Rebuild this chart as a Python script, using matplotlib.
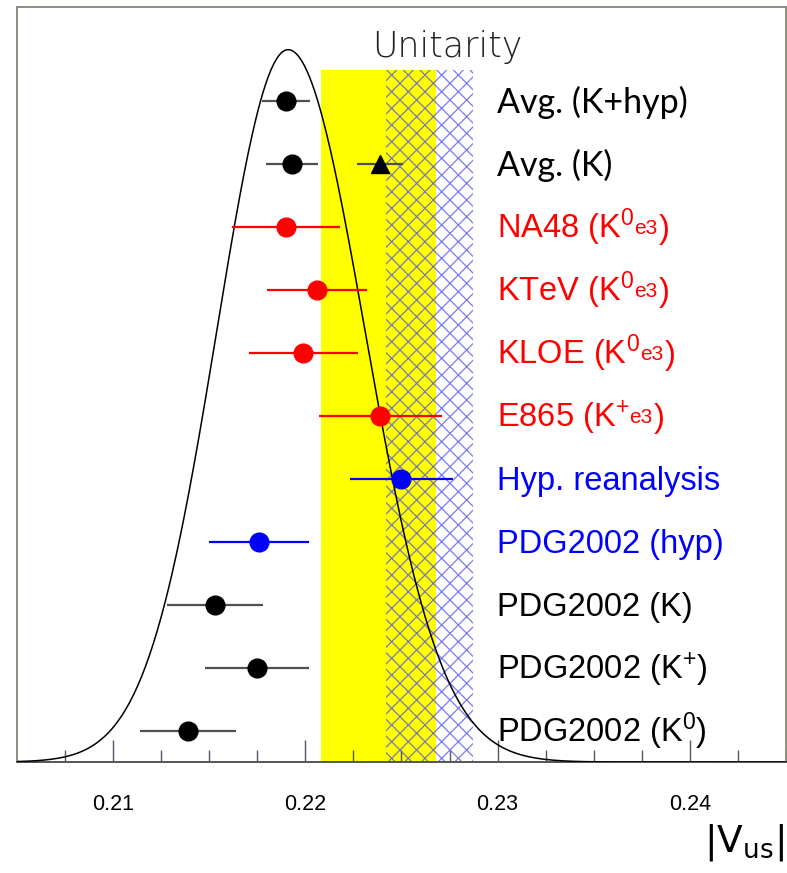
#!/usr/bin/env python
# -*- coding: utf-8 -*-

"""
|Vus| determinations compared with the unitarity expectation
"""

import numpy as np
import matplotlib
matplotlib.use("Agg")
import matplotlib.pyplot as plt

# measurements, top row first
labels = ["Avg. (K+hyp)", "Avg. (K)", "NA48 (K$^{0}$", "KTeV (K$^{0}$",
          "KLOE (K$^{0}$", "E865 (K$^{+}$", "Hyp. reanalysis", "PDG2002 (hyp)",
          "PDG2002 (K)", "PDG2002 (K$^{+}$)", "PDG2002 (K$^{0}$)"]
label_sub = [None, None, "e3", "e3", "e3", "e3", None, None, None, None, None]
colors = ["black", "black", "red", "red", "red", "red", "blue", "blue",
          "black", "black", "black"]
vus = [0.2190, 0.2193, 0.2190, 0.2206, 0.2199, 0.2239, 0.2250, 0.2176,
       0.2153, 0.2175, 0.2139]
vus_err = [0.00125, 0.00135, 0.0028, 0.0026, 0.00285, 0.0032, 0.0027,
           0.0026, 0.0025, 0.0027, 0.0025]

# second Avg. (K) point (triangle)
tri_vus = 0.2239
tri_err = 0.0012

# unitarity bands
unit_yellow = (0.2208, 0.2268)
unit_hatch = (0.2242, 0.2287)

# split gaussian of the average
curve_mean = 0.2191
curve_sig_left = 0.0037
curve_sig_right = 0.0040
curve_peak = 11.32

xticks = [0.21, 0.22, 0.23, 0.24]


def main():
    plt.rcParams['mathtext.fontset'] = 'custom'
    plt.rcParams['mathtext.rm'] = 'Liberation Sans'
    plt.rcParams['mathtext.it'] = 'Liberation Sans:italic'
    plt.rcParams['hatch.linewidth'] = 0.9

    fig = plt.figure(figsize=(7.87, 8.73), dpi=100)
    ax = fig.add_axes([0.0216, 0.1271, 0.977, 0.865])
    ax.set_xlim(0.205, 0.245)
    ax.set_ylim(0, 12)

    nrow = len(vus)
    rows = np.arange(nrow)[::-1] + 0.5

    # unitarity bands
    ax.fill_betweenx([0, 11.0], unit_yellow[0], unit_yellow[1],
                     color='#ffff00', linewidth=0, zorder=1)
    ax.fill_betweenx([0, 11.0], unit_hatch[0], unit_hatch[1],
                     facecolor='none', edgecolor=(0.3, 0.3, 0.95, 0.75),
                     hatch='xx', linewidth=0, zorder=2)
    ax.text(0.2274, 11.36, "Unitarity", ha='center', va='center',
            fontsize=25, family='DejaVu Sans', weight='light', color='#222222')

    # gaussian curve
    x = np.linspace(0.205, 0.245, 600)
    sig = np.where(x < curve_mean, curve_sig_left, curve_sig_right)
    ax.plot(x, curve_peak * np.exp(-0.5 * ((x - curve_mean) / sig) ** 2),
            color='black', lw=1.1, zorder=3)

    # measurements
    for i in range(nrow):
        ecol = '#505050' if colors[i] == 'black' else colors[i]
        ax.errorbar(vus[i], rows[i], xerr=vus_err[i], fmt='o',
                    color=colors[i], ecolor=ecol, elinewidth=1.6,
                    markersize=13.5, capsize=0, zorder=5)
    ax.errorbar(tri_vus, rows[1], xerr=tri_err, fmt='^', color='black',
                ecolor='#505050', elinewidth=1.6, markersize=12.5,
                capsize=0, zorder=5)

    # row labels
    xlab = 0.22997
    for i in range(nrow):
        ybase = rows[i] - 0.18
        if labels[i].startswith("Avg"):
            ax.text(xlab, ybase, labels[i], color=colors[i], fontsize=24.5,
                    family='Lato', va='baseline', zorder=6)
            continue
        t = ax.text(xlab, ybase, labels[i], color=colors[i], fontsize=23.5,
                    family='Liberation Sans', va='baseline', zorder=6)
        if label_sub[i]:
            e = ax.annotate(label_sub[i], xy=(1, ybase), xycoords=(t, 'data'),
                            xytext=(0, 3), textcoords='offset points',
                            color=colors[i], fontsize=15,
                            family='Liberation Sans', va='baseline')
            ax.annotate(")", xy=(1, ybase), xycoords=(e, 'data'),
                        xytext=(1, 0), textcoords='offset points',
                        color=colors[i], fontsize=23.5,
                        family='Liberation Sans', va='baseline')

    # axis look
    for side in ax.spines.values():
        side.set_color('#8c8c80')
        side.set_linewidth(1.4)
    ax.spines['bottom'].set_color('#555555')
    ax.set_yticks([])
    ax.set_xticks(xticks)
    ax.set_xticklabels(["%.2f" % v for v in xticks])
    ax.set_xticks(np.arange(0.2075, 0.245, 0.0025), minor=True)
    ax.tick_params(axis='x', which='both', direction='in', color='#555566',
                   width=1.0, top=False, labelsize=15.5, pad=23)
    ax.tick_params(axis='x', which='major', length=16)
    ax.tick_params(axis='x', which='minor', length=8.5)
    for lab in ax.get_xticklabels():
        lab.set_family('Liberation Sans')

    ax.text(0.998, -0.106, r'$\mathregular{|V_{us}|}$', transform=ax.transAxes,
            ha='right', va='center', fontsize=27)

    fig.savefig("out.png", dpi=100)
    return 0


if __name__ == '__main__':
    main()
